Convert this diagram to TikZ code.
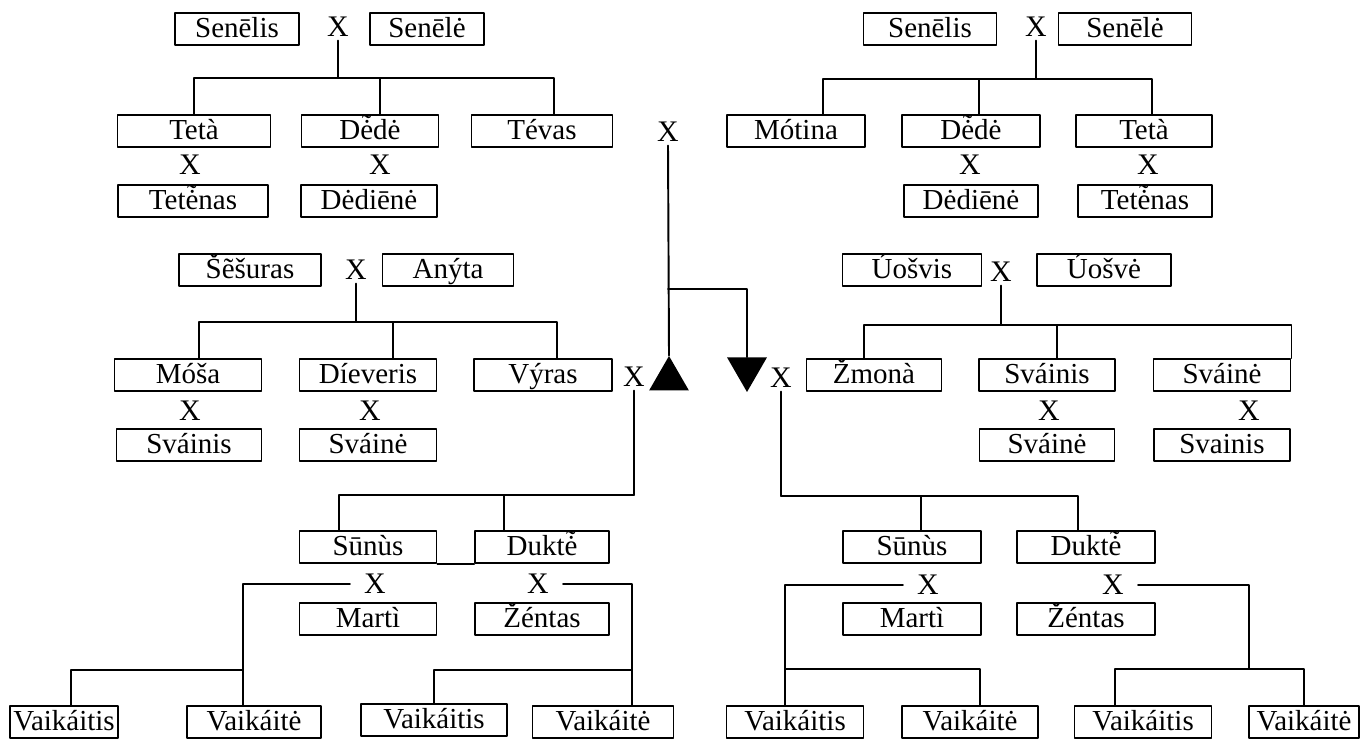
\documentclass[tikz,border=0pt]{standalone}
\usepackage{fontspec}
\setmainfont{Liberation Serif}
\usepackage{tikz}
\usetikzlibrary{shapes.geometric}
\newcommand{\etil}{\mbox{\ooalign{ė\cr\hidewidth\raisebox{0.4ex}{\char"02DC}\hidewidth\cr}}}

\begin{document}
\begin{tikzpicture}[line cap=round,line join=round,x=0.02cm,y=-0.02cm,
	kin/.style={draw,line width=1.1pt,inner sep=0pt,minimum height=0.64cm,minimum width=#1*0.02cm,text height=13.7pt,text depth=3.5pt,font=\fontsize{16.5}{18}\selectfont},
	wed/.style={inner xsep=0.28cm,inner ysep=2pt,font=\fontsize{17}{19}\selectfont},
	tie/.style={line width=1.1pt},
	sexmark/.style={regular polygon,regular polygon sides=3,fill,inner sep=0pt,minimum size=0.92cm}]
	
	\useasboundingbox (0,0) rectangle (1369,742);
	
	\node [kin=124] (senelisL) at (237,29) {Senēlis};
	\node [wed] (xL) at (338,27) {X};
	\node [kin=114] (seneleL) at (427,29) {Senēlė};
	\coordinate (forkL) at (338,78);
	\node [kin=153] (tetaL) at (194,131) {Tetà};
	\node [kin=137] (dedeL) at (370,131) {D\etil dė};
	\node [kin=141] (tevas) at (542,131) {Tévas};
	\node [wed] (xTetaL) at (190,165) {X};
	\node [wed] (xDedeL) at (380,165) {X};
	\node [kin=150] (tetenasL) at (193,201) {Tet\etil nas};
	\node [kin=136] (dedieneL) at (369,201) {Dėdiēnė};
	
	\draw [tie] (xL.south) -- (forkL);
	\draw [tie] (tetaL.north) |- (forkL);
	\draw [tie] ([xshift=0.2cm]dedeL.north) |- (forkL);
	\draw [tie] ([xshift=0.24cm]tevas.north) |- (forkL);
	
	\node [kin=133] (senelisR) at (930,29) {Senēlis};
	\node [wed] (xR) at (1036,27) {X};
	\node [kin=133] (seneleR) at (1125,29) {Senēlė};
	\coordinate (forkR) at (1036,79);
	\node [kin=138] (motina) at (796,131) {Mótina};
	\node [kin=138] (dedeR) at (971,131) {D\etil dė};
	\node [kin=136] (tetaR) at (1144,131) {Tetà};
	\node [wed] (xDedeR) at (970,165) {X};
	\node [wed] (xTetaR) at (1148,165) {X};
	\node [kin=134] (dedieneR) at (971,201) {Dėdiēnė};
	\node [kin=134] (tetenasR) at (1145,201) {Tet\etil nas};
	
	\draw [tie] (xR.south) -- (forkR);
	\draw [tie] ([xshift=0.54cm]motina.north) |- (forkR);
	\draw [tie] ([xshift=0.16cm]dedeR.north) |- (forkR);
	\draw [tie] ([xshift=0.16cm]tetaR.north) |- (forkR);
	
	\node [wed] (xC) at (668,132) {X};
	\node [sexmark] (male) at (669,379) {};
	\node [sexmark,shape border rotate=180] (female) at (747,369) {};
	\node [wed] (xH) at (634,377) {X};
	\node [wed] (xW) at (781,378) {X};
	\coordinate (forkC) at (668,289);
	
	\draw [tie] (xC.south) -- (male.north);
	\draw [tie] (forkC) -| (female.north);
	
	\node [kin=142] (sesuras) at (250,270) {Šẽšuras};
	\node [wed] (xIL) at (356,270) {X};
	\node [kin=131] (anyta) at (448,270) {Anýta};
	\coordinate (forkIL) at (356,322);
	\node [kin=147] (mosa) at (188,375) {Móša};
	\node [kin=137] (dieveris) at (368,375) {Díeveris};
	\node [kin=138] (vyras) at (543,375) {Výras};
	\node [wed] (xMosa) at (190,411) {X};
	\node [wed] (xDieveris) at (370,411) {X};
	\node [kin=145] (svainisL) at (189,445) {Sváinis};
	\node [kin=137] (svaineL) at (368,445) {Sváinė};
	
	\draw [tie] (xIL.south) -- (forkIL);
	\draw [tie] ([xshift=0.22cm]mosa.north) |- (forkIL);
	\draw [tie] ([xshift=0.5cm]dieveris.north) |- (forkIL);
	\draw [tie] ([xshift=0.28cm]vyras.north) |- (forkIL);
	
	\node [kin=139] (uosvis) at (912,270) {Úošvis};
	\node [wed] (xIR) at (1001,272) {X};
	\node [kin=134] (uosve) at (1104,270) {Úošvė};
	\coordinate (forkIR) at (1001,325);
	\node [kin=135] (zmona) at (874,375) {Žmonà};
	\node [kin=136] (svainisR) at (1047,375) {Sváinis};
	\node [kin=137] (svaineR) at (1222,375) {Sváinė};
	\node [wed] (xSvainisR) at (1049,411) {X};
	\node [wed] (xSvaineR) at (1249,411) {X};
	\node [kin=135] (svaineR2) at (1047,445) {Sváinė};
	\node [kin=136] (svainisR2) at (1222,445) {Svainis};
	
	\draw [tie] (xIR.south) -- (forkIR);
	\draw [tie] ([xshift=-0.2cm]zmona.north) |- (forkIR);
	\draw [tie] ([xshift=0.2cm]svainisR.north) |- (forkIR);
	\draw [tie] (svaineR.north east) |- (forkIR);
	
	\node [kin=137] (sunusL) at (368,547) {Sūnùs};
	\node [kin=134] (dukteL) at (542,547) {Dukt\etil};
	\node [wed] (xSunusL) at (375,584) {X};
	\node [wed] (xDukteL) at (538,584) {X};
	\node [kin=137] (martiL) at (368,619) {Martì};
	\node [kin=134] (zentasL) at (542,619) {Žéntas};
	\coordinate (forkKL) at (634,495);
	
	\draw [tie] (xH.south) -- (forkKL) -| ([xshift=-0.58cm]sunusL.north);
	\draw [tie] ([xshift=-0.76cm]dukteL.north) |- (forkKL);
	\draw [tie] (sunusL.south east) -- (dukteL.south west);
	
	\node [kin=108] (vaikaitisA) at (64,722) {Vaikáitis};
	\node [kin=134] (vaikaiteA) at (254,722) {Vaikáitė};
	\node [kin=146] (vaikaitisB) at (434,720) {Vaikáitis};
	\node [kin=141] (vaikaiteB) at (603,722) {Vaikáitė};
	\coordinate (forkGA) at (243,670);
	\coordinate (forkGB) at (632,670);
	
	\draw [tie] (xSunusL.west) -| ([xshift=-0.22cm]vaikaiteA.north);
	\draw [tie] ([xshift=0.14cm]vaikaitisA.north) |- (forkGA);
	\draw [tie] (xDukteL.east) -| ([xshift=0.58cm]vaikaiteB.north);
	\draw [tie] (vaikaitisB.north) |- (forkGB);
	
	\node [kin=138] (sunusR) at (912,547) {Sūnùs};
	\node [kin=138] (dukteR) at (1086,547) {Dukt\etil};
	\node [wed] (xSunusR) at (928,585) {X};
	\node [wed] (xDukteR) at (1113,585) {X};
	\node [kin=138] (martiR) at (912,619) {Martì};
	\node [kin=138] (zentasR) at (1086,619) {Žéntas};
	\coordinate (forkKR) at (781,496);
	
	\draw [tie] (xW.south) -- (forkKR) -| ([xshift=-0.16cm]dukteR.north);
	\draw [tie] ([xshift=0.18cm]sunusR.north) |- (forkKR);
	
	\node [kin=137] (vaikaitisC) at (795,722) {Vaikáitis};
	\node [kin=136] (vaikaiteC) at (970,722) {Vaikáitė};
	\node [kin=137] (vaikaitisD) at (1143,722) {Vaikáitis};
	\node [kin=110] (vaikaiteD) at (1304,722) {Vaikáitė};
	\coordinate (forkGC) at (785,669);
	\coordinate (forkGD) at (1249,669);
	
	\draw [tie] (xSunusR.west) -| ([xshift=-0.2cm]vaikaitisC.north);
	\draw [tie] ([xshift=0.2cm]vaikaiteC.north) |- (forkGC);
	\draw [tie] (xDukteR.east) -| (forkGD);
	\draw [tie] ([xshift=-0.56cm]vaikaitisD.north) |- (forkGD) -| (vaikaiteD.north);
	
\end{tikzpicture}
\end{document}
